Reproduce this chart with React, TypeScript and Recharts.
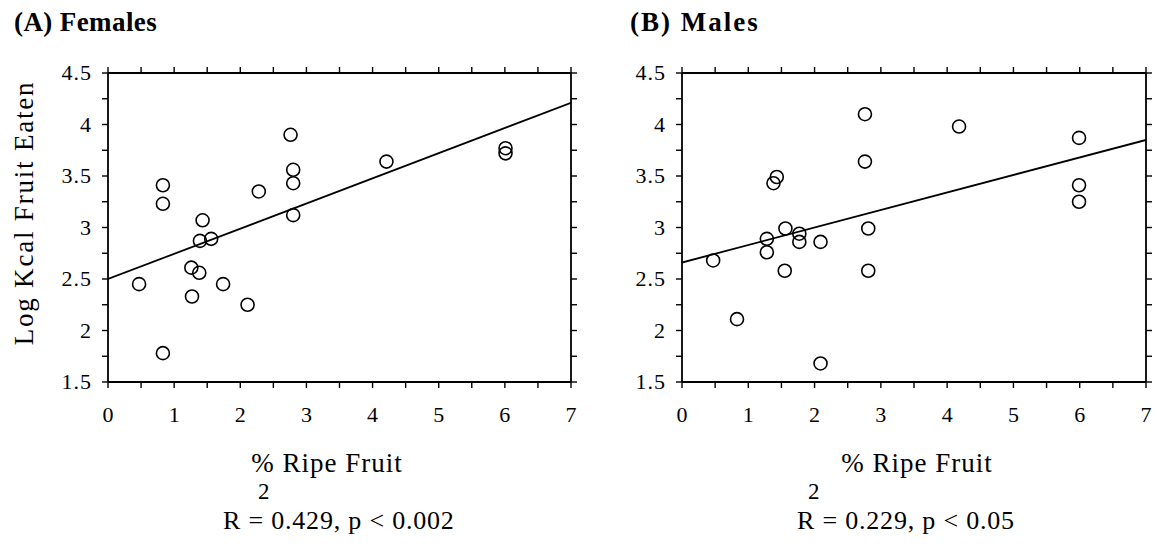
import { ScatterChart, Scatter, XAxis, YAxis } from 'recharts';

interface Pt { x: number; y: number; }

// % ripe fruit vs log kcal fruit eaten
const femalesX = [2.76, 2.8, 2.8, 2.8, 4.21, 6.01, 6.01, 0.83, 0.83, 2.28, 1.43, 1.39, 1.56, 1.26, 1.38, 0.47, 1.74, 1.27, 2.11, 0.83];
const femalesY = [3.9, 3.56, 3.43, 3.12, 3.64, 3.77, 3.72, 3.41, 3.23, 3.35, 3.07, 2.87, 2.89, 2.61, 2.56, 2.45, 2.45, 2.33, 2.25, 1.78];
const malesX = [2.76, 4.18, 5.99, 2.76, 1.43, 1.38, 5.99, 5.99, 1.56, 2.81, 1.77, 1.28, 1.77, 2.09, 1.28, 0.47, 1.55, 2.81, 0.83, 2.09];
const malesY = [4.1, 3.98, 3.87, 3.64, 3.49, 3.43, 3.41, 3.25, 2.99, 2.99, 2.94, 2.89, 2.86, 2.86, 2.76, 2.68, 2.58, 2.58, 2.11, 1.68];

// regression line end points (x = 0 and x = 7)
const fitFemales = [2.5, 4.21];
const fitMales = [2.66, 3.85];
const fitX = [0, 7];

const xTicks = [0, 0.5, 1, 1.5, 2, 2.5, 3, 3.5, 4, 4.5, 5, 5.5, 6, 6.5, 7];
const yTicks = [1.5, 1.75, 2, 2.25, 2.5, 2.75, 3, 3.25, 3.5, 3.75, 4, 4.25, 4.5];

const FONT = '"Liberation Serif", "Times New Roman", serif';

const toPts = (xs: number[], ys: number[]): Pt[] => xs.map((x, i) => ({ x, y: ys[i] }));

const Ring = (p: any) => (
  <circle cx={p.cx} cy={p.cy} r={6.5} fill="none" stroke="#000" strokeWidth={1.6} />
);

const isMajorX = (v: number) => Number.isInteger(v);
const isMajorY = (v: number) => Number.isInteger(v * 2);

function Panel({ left, width, marginLeft, marginRight, points, fit }: {
  left: number; width: number; marginLeft: number; marginRight: number; points: Pt[]; fit: number[];
}) {
  const fitPts = toPts(fitX, fit);
  const axisLine = { stroke: '#000', strokeWidth: 1.8 };
  const tickLine = { stroke: '#000', strokeWidth: 1.4 };
  // top / right axes get a 1px box, a zero-size axis is not drawn at all
  return (
    <div style={{ position: 'absolute', left, top: 0 }}>
      <ScatterChart width={width} height={548} margin={{ top: 72, right: marginRight - 1, bottom: 126, left: marginLeft }}>
        <XAxis
          type="number" dataKey="x" domain={[0, 7]} ticks={xTicks} interval={0} allowDataOverflow
          height={40} stroke="#000" axisLine={axisLine} tickLine={tickLine} tickSize={6}
          tick={({ x, y, payload }: any) =>
            isMajorX(payload.value) ? (
              <text x={x} y={y + 32} textAnchor="middle" fontFamily={FONT} fontSize={22} fill="#000">{payload.value}</text>
            ) : <g />}
        />
        <XAxis
          xAxisId="t" orientation="top" type="number" dataKey="x" domain={[0, 7]} ticks={xTicks} interval={0}
          allowDataOverflow height={1} stroke="#000" axisLine={axisLine} tickLine={tickLine} tickSize={6} tick={() => <g />}
        />
        <YAxis
          type="number" dataKey="y" domain={[1.5, 4.5]} ticks={yTicks} interval={0} allowDataOverflow
          width={100} stroke="#000" axisLine={axisLine} tickLine={tickLine} tickSize={6}
          tick={({ x, y, payload }: any) =>
            isMajorY(payload.value) ? (
              <text x={x - 8} y={y + 7} textAnchor="end" fontFamily={FONT} fontSize={22} letterSpacing={1} fill="#000">{payload.value}</text>
            ) : <g />}
        />
        <YAxis
          yAxisId="r" orientation="right" type="number" dataKey="y" domain={[1.5, 4.5]} ticks={yTicks} interval={0}
          allowDataOverflow width={1} stroke="#000" axisLine={axisLine} tickLine={tickLine} tickSize={6} tick={() => <g />}
        />
        <Scatter data={points} shape={Ring} isAnimationActive={false} />
        <Scatter
          data={fitPts} xAxisId="t" yAxisId="r" line={{ stroke: '#000', strokeWidth: 1.8 }} lineType="joint"
          shape={() => <g />} isAnimationActive={false}
        />
      </ScatterChart>
    </div>
  );
}

export default function App() {
  const txt = { fontFamily: FONT, fill: '#000' };
  return (
    <div style={{ position: 'absolute', left: 0, top: 0, width: 1157, height: 548, background: '#fff' }}>
      <Panel left={0} width={600} marginLeft={8} marginRight={29} points={toPts(femalesX, femalesY)} fit={fitFemales} />
      <Panel left={574} width={583} marginLeft={8} marginRight={11} points={toPts(malesX, malesY)} fit={fitMales} />
      <svg width={1157} height={548} style={{ position: 'absolute', left: 0, top: 0, pointerEvents: 'none' }}>
        <text x={14} y={31} {...txt} fontSize={27} fontWeight="bold" letterSpacing={0.4}>(A) Females</text>
        <text x={630} y={31} {...txt} fontSize={27} fontWeight="bold" letterSpacing={2}>(B) Males</text>
        <text transform="translate(33,213) rotate(-90)" textAnchor="middle" {...txt} fontSize={27} letterSpacing={1.8}>
          Log Kcal Fruit Eaten
        </text>
        <text x={327} y={472} textAnchor="middle" {...txt} fontSize={27} letterSpacing={1}>% Ripe Fruit</text>
        <text x={258} y={499} {...txt} fontSize={23}>2</text>
        <text x={223} y={529} {...txt} fontSize={26} letterSpacing={0.8}>R = 0.429, p &lt; 0.002</text>
        <text x={917} y={472} textAnchor="middle" {...txt} fontSize={27} letterSpacing={1}>% Ripe Fruit</text>
        <text x={808} y={499} {...txt} fontSize={23}>2</text>
        <text x={797} y={529} {...txt} fontSize={26} letterSpacing={0.8}>R = 0.229, p &lt; 0.05</text>
      </svg>
    </div>
  );
}
